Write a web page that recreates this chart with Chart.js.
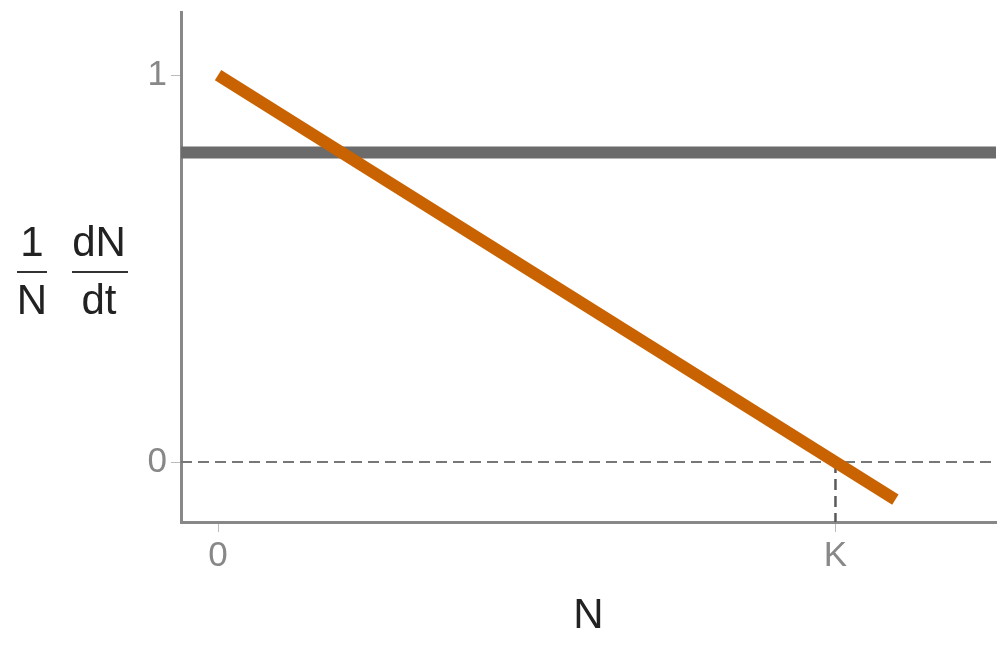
<!DOCTYPE html>
<html>
<head>
<meta charset="utf-8">
<script src="https://cdn.jsdelivr.net/npm/chart.js@4/dist/chart.umd.min.js"></script>
<style>
  html, body { margin: 0; padding: 0; background: #fff; }
  #wrap { width: 1008px; height: 648px; }
</style>
</head>
<body>
<div id="wrap"><canvas id="growthChart"></canvas></div>
<script>
// per-capita growth rate vs population size
const nValues = [0, 1.097];
const rateValues = [1, -0.097];

const flatN = [-0.06, 1.26];
const flatRate = [0.8, 0.8];

const zeroN = [-0.06, 1.26];
const zeroRate = [0, 0];

const kN = [1, 1];
const kRate = [0, -0.155];

const xTicks = [0, 1];
const xTickLabels = ['0', 'K'];
const yTicks = [0, 1];
const yTickLabels = ['0', '1'];

function pts(xs, ys) {
    return xs.map((x, i) => ({ x: x, y: ys[i] }));
}

const yTitle = {
    id: 'yTitle',
    afterDraw(chart) {
        const c = chart.ctx;
        c.save();
        c.fillStyle = '#222';
        c.font = '42px "Liberation Sans", Arial, sans-serif';
        c.textAlign = 'center';
        c.textBaseline = 'alphabetic';
        c.fillText('1', 32, 256);
        c.fillText('N', 32, 314);
        c.fillText('dN', 99, 256);
        c.fillText('dt', 99, 314);
        c.strokeStyle = '#333';
        c.lineWidth = 2;
        c.beginPath();
        c.moveTo(17, 272); c.lineTo(47, 272);
        c.moveTo(72, 272); c.lineTo(128, 272);
        c.stroke();
        c.restore();
    }
};

const tickFont = { family: '"Liberation Sans Narrow", "Liberation Sans", sans-serif', size: 35 };

const ctx = document.getElementById('growthChart').getContext('2d');
new Chart(ctx, {
    type: 'scatter',
    data: {
        datasets: [
            {
                data: pts(nValues, rateValues),
                showLine: true,
                borderColor: '#c96302',
                borderWidth: 12,
                borderCapStyle: 'butt',
                pointRadius: 0
            },
            {
                data: pts(flatN, flatRate),
                showLine: true,
                borderColor: '#6b6b6b',
                borderWidth: 12,
                borderCapStyle: 'butt',
                pointRadius: 0
            },
            {
                data: pts(zeroN, zeroRate),
                showLine: true,
                borderColor: '#777',
                borderWidth: 2,
                borderDash: [11, 6],
                pointRadius: 0
            },
            {
                data: pts(kN, kRate),
                showLine: true,
                borderColor: '#5a5a5a',
                borderWidth: 2.5,
                borderDash: [11, 6],
                pointRadius: 0
            }
        ]
    },
    options: {
        responsive: true,
        maintainAspectRatio: false,
        animation: false,
        layout: { padding: { top: 12, right: 12, bottom: 2, left: 0 } },
        plugins: { legend: { display: false }, tooltip: { enabled: false } },
        scales: {
            x: {
                type: 'linear',
                min: -0.06,
                max: 1.26,
                afterBuildTicks: s => { s.ticks = xTicks.map(v => ({ value: v })); },
                afterFit: s => { s.height = 124; s.paddingLeft = 0; s.paddingRight = 0; },
                border: { color: '#888', width: 3 },
                grid: { drawOnChartArea: false, drawTicks: true, tickLength: 10, color: '#bbb', tickWidth: 1 },
                ticks: {
                    padding: 3,
                    color: '#888',
                    font: tickFont,
                    callback: (v) => xTickLabels[xTicks.indexOf(v)]
                },
                title: {
                    display: true,
                    text: 'N',
                    color: '#222',
                    padding: { top: 4, bottom: 4 },
                    font: { family: '"Liberation Sans Narrow", "Liberation Sans", sans-serif', size: 42 }
                }
            },
            y: {
                type: 'linear',
                min: -0.155,
                max: 1.163,
                afterBuildTicks: s => { s.ticks = yTicks.map(v => ({ value: v })); },
                afterFit: s => { s.width = 181; s.paddingTop = 0; s.paddingBottom = 0; },
                border: { color: '#888', width: 3 },
                grid: { drawOnChartArea: false, drawTicks: true, tickLength: 10, color: '#bbb', tickWidth: 1 },
                ticks: {
                    padding: 4,
                    color: '#888',
                    font: tickFont,
                    callback: (v) => yTickLabels[yTicks.indexOf(v)]
                }
            }
        }
    },
    plugins: [yTitle]
});
</script>
</body>
</html>
